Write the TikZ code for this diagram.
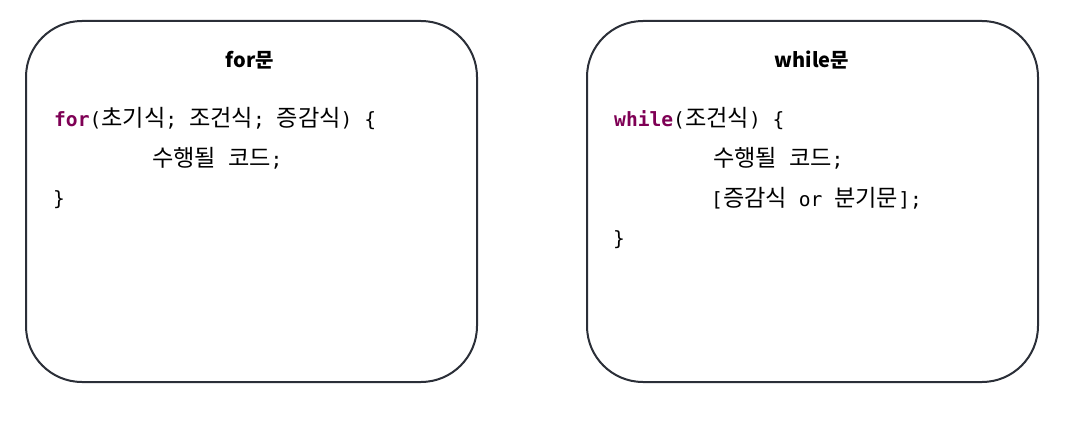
\documentclass[tikz,border=0pt]{standalone}
\usepackage{fontspec}
\setmainfont{Noto Sans CJK KR}
\newfontfamily\krfont{Noto Sans CJK KR}
\newfontfamily\codefont{DejaVu Sans Mono}
\definecolor{kwcolor}{HTML}{7F0055}
\definecolor{boxline}{HTML}{2B2F38}
\newcommand{\K}[1]{{\krfont\fontsize{23.2}{26}\selectfont #1}}
\newcommand{\kw}[1]{{\bfseries\color{kwcolor}#1}}
\tikzset{
  panel/.style={draw=boxline, line width=2pt, rounded corners=56pt, fill=white},
  paneltitle/.style={anchor=base, inner sep=0pt, font=\bfseries\fontsize{20}{24}\selectfont},
  codeline/.style={anchor=base west, inner sep=0pt, font=\codefont\fontsize{19.6}{22}\selectfont}
}
\begin{document}
\begin{tikzpicture}[x=1pt,y=-1pt]
\useasboundingbox (0,0) rectangle (1080,444);
\fill[white] (0,0) rectangle (1080,444);
% left panel
\draw[panel] (26,21) rectangle (477,382);
\node[paneltitle] (fortitle) at (250,67) {for문};
\node[codeline] (for1) at (54,126) {\kw{for}(\K{초기식}; \K{조건식}; \K{증감식}) \{};
\node[codeline] (for2) at (152,166) {\K{수행될} \K{코드};};
\node[codeline] (for3) at (53,205) {\}};
% right panel
\draw[panel] (587,21) rectangle (1038,382);
\node[paneltitle] (whiletitle) at (812,67) {while문};
\node[codeline] (while1) at (614,126) {\kw{while}(\K{조건식}) \{};
\node[codeline] (while2) at (713,166) {\K{수행될} \K{코드};};
\node[codeline] (while3) at (711,206) {[\K{증감식} or \K{분기문}];};
\node[codeline] (while4) at (613,245) {\}};
\end{tikzpicture}
\end{document}
